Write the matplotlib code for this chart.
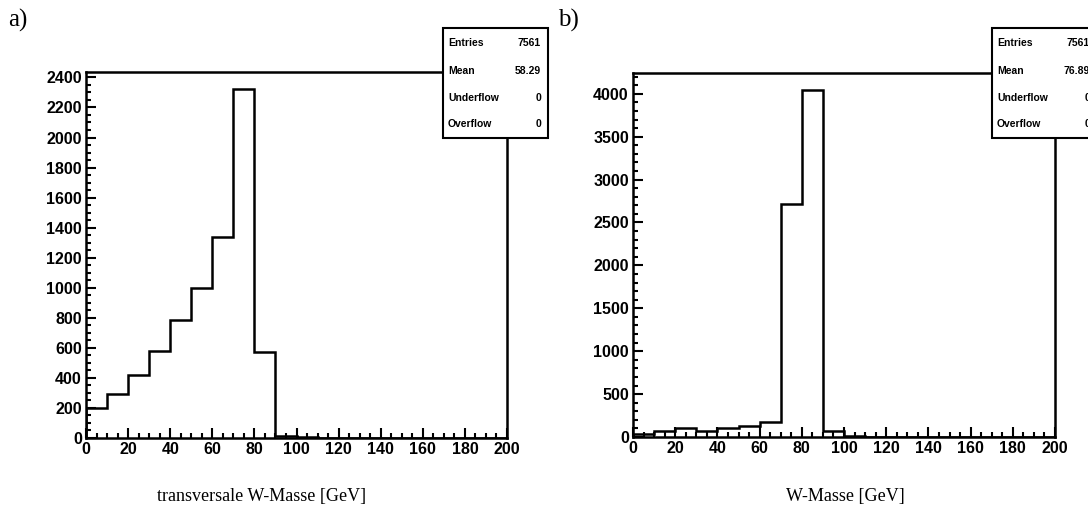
import matplotlib
matplotlib.use("Agg")
import matplotlib.pyplot as plt
from matplotlib.patches import Rectangle
from matplotlib.ticker import MultipleLocator
from matplotlib.font_manager import FontProperties

# ---- data ----
bin_edges = list(range(0, 210, 10))
mt_counts = [200, 290, 420, 580, 785, 1000, 1340, 2320, 570, 12, 5,
             0, 0, 0, 0, 0, 0, 0, 0, 0]
mw_counts = [40, 70, 110, 70, 100, 130, 175, 2720, 4040, 65, 15, 5,
             0, 0, 0, 0, 0, 0, 0, 0]
panel_labels = ["a)", "b)"]
x_titles = ["transversale W-Masse [GeV]", "W-Masse [GeV]"]
stats_left = [("Entries", "7561"), ("Mean", "58.29"), ("Underflow", "0"), ("Overflow", "0")]
stats_right = [("Entries", "7561"), ("Mean", "76.89"), ("Underflow", "0"), ("Overflow", "0")]
y_major = [200, 500]
y_minor = [50, 100]

W, H = 1088, 525
fig = plt.figure(figsize=(W / 100, H / 100), dpi=100)

def fx(px):
    return px / W

def fy(py):
    return 1 - py / H

tick_font = FontProperties(family="Liberation Sans", weight="bold", size=11.5)

axes_px = [(86, 507, 72, 438), (633, 1055, 73, 437)]
counts_all = [mt_counts, mw_counts]
stats_all = [stats_left, stats_right]
box_px = [(443, 548, 28, 138), (992, 1100, 28, 138)]
label_px = [(8, 20), (558, 20)]
title_px = [262, 845]

for i in range(2):
    x0, x1, yt, yb = axes_px[i]
    ax = fig.add_axes([fx(x0), fy(yb), fx(x1) - fx(x0), fy(yt) - fy(yb)])
    counts = counts_all[i]
    ax.stairs(counts, bin_edges, color="black", linewidth=1.8)
    ax.set_xlim(0, 200)
    ax.set_ylim(0, max(counts) * 1.05)
    ax.xaxis.set_major_locator(MultipleLocator(20))
    ax.xaxis.set_minor_locator(MultipleLocator(5))
    ax.yaxis.set_major_locator(MultipleLocator(y_major[i]))
    ax.yaxis.set_minor_locator(MultipleLocator(y_minor[i]))
    ax.tick_params(which="both", direction="in", top=False, right=False, width=1.5, colors="black")
    ax.tick_params(which="major", length=7.5)
    ax.tick_params(which="minor", length=3.8)
    ax.tick_params(axis="x", which="major", pad=3)
    ax.tick_params(axis="y", which="major", pad=3)
    for lab in ax.get_xticklabels() + ax.get_yticklabels():
        lab.set_fontproperties(tick_font)
    for sp in ax.spines.values():
        sp.set_linewidth(1.8)
    fig.text(fx(title_px[i]), fy(497), x_titles[i], ha="center", va="center",
             family="Liberation Serif", size=13)
    fig.text(fx(label_px[i][0]), fy(label_px[i][1]), panel_labels[i], ha="left", va="center",
             family="Liberation Serif", size=18)
    bx0, bx1, byt, byb = box_px[i]
    rect = Rectangle((fx(bx0), fy(byb)), fx(bx1) - fx(bx0), fy(byt) - fy(byb),
                     transform=fig.transFigure, facecolor="white", edgecolor="black",
                     linewidth=1.5, zorder=5)
    fig.patches.append(rect)
    rows_y = [43, 71, 98, 124]
    for (name, val), ry in zip(stats_all[i], rows_y):
        fig.text(fx(bx0 + 5), fy(ry), name, ha="left", va="center",
                 family="Liberation Sans", weight="bold", size=7.5, zorder=6)
        fig.text(fx(bx0 + 98), fy(ry), val, ha="right", va="center",
                 family="Liberation Sans", weight="bold", size=7.5, zorder=6)

fig.savefig("out.png", dpi=100)
